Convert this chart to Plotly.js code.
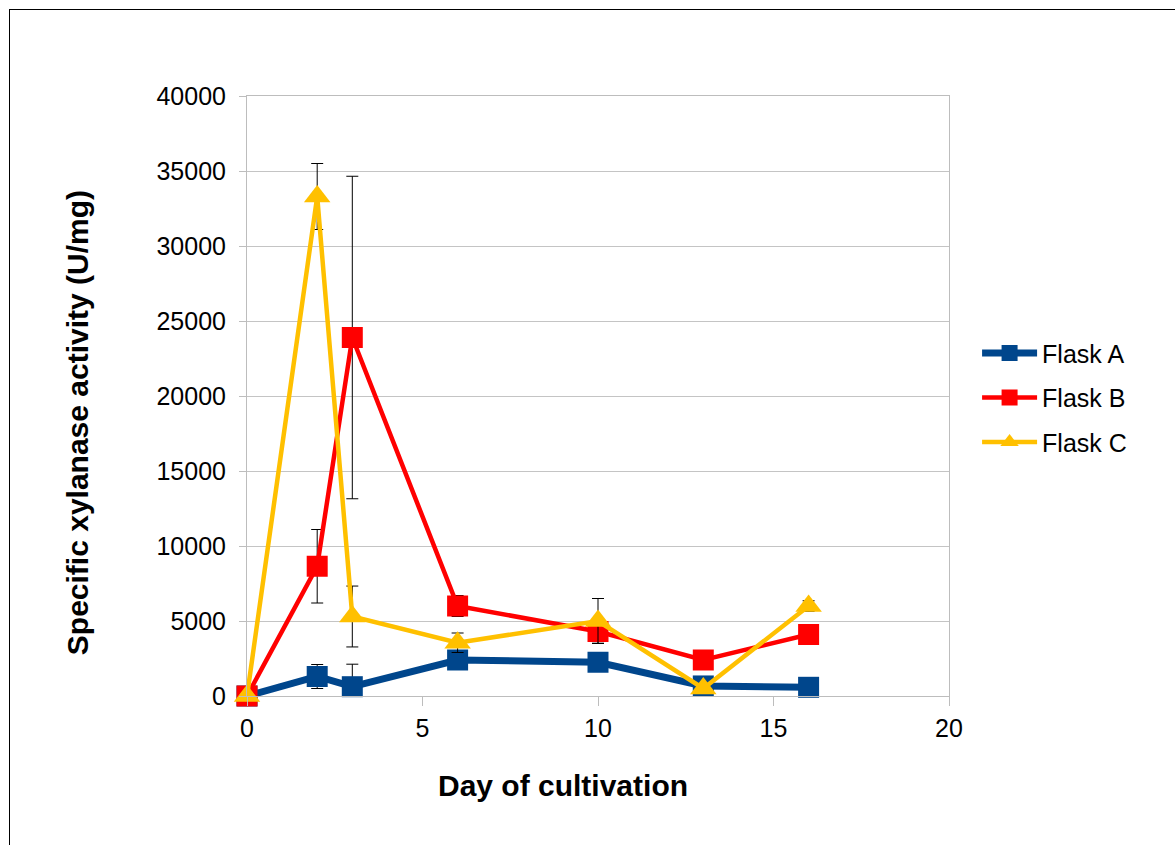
<!DOCTYPE html>
<html>
<head>
<meta charset="utf-8">
<script src="https://cdn.plot.ly/plotly-3.0.1.min.js"></script>
<style>
  html, body { margin: 0; padding: 0; background: #ffffff; }
  #wrap { position: relative; width: 1175px; height: 845px; overflow: hidden; }
  #chart { position: absolute; left: 0; top: 0; width: 1175px; height: 845px; }
  #frame { position: absolute; left: 9px; top: 9px; width: 1200px; height: 900px;
           border: 1px solid #000; box-sizing: border-box; pointer-events: none; }
</style>
</head>
<body>
<div id="wrap">
  <div id="chart"></div>
  <div id="frame"></div>
</div>
<script>
// Sampling days
const days = [0, 2, 3, 6, 10, 13, 16];

// Specific xylanase activity (U/mg) and standard deviations per flask
const flaskA = [0, 1300, 620, 2400, 2250, 670, 580];
const flaskAErr = [0, 800, 1500, 0, 0, 0, 0];

const flaskB = [0, 8650, 23900, 6000, 4300, 2400, 4100];
const flaskBErr = [0, 2450, 10750, 700, 780, 0, 0];

const flaskC = [0, 33300, 5300, 3550, 5000, 500, 6000];
const flaskCErr = [0, 2200, 2030, 650, 1500, 0, 350];

const seriesNames = ['Flask A', 'Flask B', 'Flask C'];

// Lower whiskers stop at the x axis (activity cannot go below zero)
function lowerErr(vals, errs) {
  return errs.map((e, i) => Math.min(e, vals[i]));
}

function errorSpec(vals, errs) {
  return {
    type: 'data', symmetric: false,
    array: errs, arrayminus: lowerErr(vals, errs),
    color: '#000000', thickness: 1, width: 6
  };
}

const FONT = 'Liberation Sans, Arial, sans-serif';

const traces = [
  {
    x: days, y: flaskA, name: seriesNames[0], legendgroup: 'a',
    mode: 'lines+markers', cliponaxis: false,
    line: { color: '#00468c', width: 7 },
    marker: { symbol: 'square', size: 21, color: '#00468c' },
    error_y: errorSpec(flaskA, flaskAErr)
  },
  {
    x: days, y: flaskB, name: seriesNames[1], legendgroup: 'b',
    mode: 'lines+markers', cliponaxis: false,
    line: { color: '#ff0000', width: 4.5 },
    marker: { symbol: 'square', size: 21, color: '#ff0000' },
    error_y: errorSpec(flaskB, flaskBErr)
  },
  {
    x: days, y: flaskC, name: seriesNames[2], legendgroup: 'c',
    mode: 'lines+markers', cliponaxis: false,
    line: { color: '#ffc000', width: 4.5 },
    marker: { symbol: 'triangle-up', size: 23, color: '#ffc000' },
    error_y: errorSpec(flaskC, flaskCErr)
  }
];

const layout = {
  width: 1175, height: 845,
  margin: { l: 247, r: 226, t: 96, b: 149, pad: 0 },
  paper_bgcolor: 'rgba(0,0,0,0)',
  plot_bgcolor: '#ffffff',
  font: { family: FONT, size: 25, color: '#000000' },
  showlegend: true,
  legend: {
    x: 1.04, xanchor: 'left', y: 0.497, yanchor: 'middle',
    bgcolor: 'rgba(0,0,0,0)', borderwidth: 0,
    font: { family: FONT, size: 25, color: '#000000' },
    traceorder: 'grouped', tracegroupgap: 9,
    itemwidth: 55, itemsizing: 'trace'
  },
  xaxis: {
    range: [0, 20], dtick: 5, tick0: 0,
    showgrid: false, zeroline: false,
    showline: true, linecolor: '#bdbdbd', linewidth: 1, mirror: true,
    ticks: 'outside', ticklen: 9, tickcolor: '#bdbdbd', tickwidth: 1,
    ticklabelstandoff: 1,
    tickfont: { family: FONT, size: 25, color: '#000000' }
  },
  yaxis: {
    range: [0, 40000], dtick: 5000, tick0: 0,
    showgrid: true, gridcolor: '#c4c4c4', gridwidth: 1, zeroline: false,
    showline: true, linecolor: '#bdbdbd', linewidth: 1, mirror: true,
    ticks: 'outside', ticklen: 7, tickcolor: '#bdbdbd', tickwidth: 1,
    ticklabelstandoff: 8,
    tickformat: 'd',
    tickfont: { family: FONT, size: 25, color: '#000000' }
  },
  annotations: [
    {
      text: '<b>Day of cultivation</b>', showarrow: false,
      xref: 'paper', yref: 'paper', x: 0.4495, y: -0.149,
      xanchor: 'center', yanchor: 'middle',
      font: { family: FONT, size: 30, color: '#000000' }
    },
    {
      text: '<b>Specific xylanase activity (U/mg)</b>', showarrow: false,
      xref: 'paper', yref: 'paper', x: -0.2405, y: 0.455,
      xanchor: 'center', yanchor: 'middle', textangle: -90,
      font: { family: FONT, size: 30, color: '#000000' }
    }
  ]
};

Plotly.newPlot('chart', traces, layout, { staticPlot: true, displayModeBar: false });
</script>
</body>
</html>
